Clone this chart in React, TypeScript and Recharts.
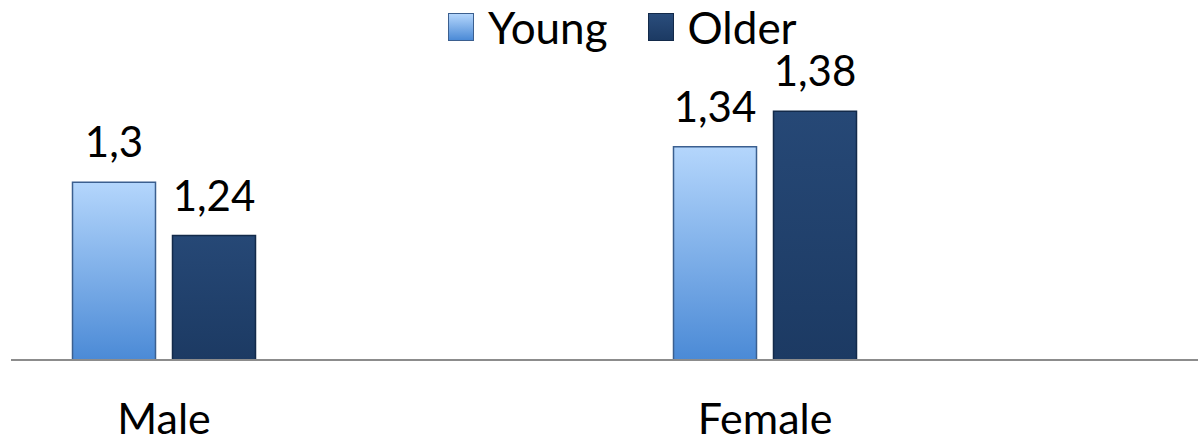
import React from 'react';
import { BarChart, Bar, XAxis, YAxis, LabelList, Legend } from 'recharts';

const groups = ['Male', 'Female'];
const seriesNames = ['Young', 'Older'];
const young = [1.3, 1.34];
const older = [1.24, 1.38];

const data = groups.map((g, i) => ({ group: g, Young: young[i], Older: older[i] }));

const FONT = 'Lato, "Open Sans", sans-serif';

const fmt = (v: any) => String(v).replace('.', ',');

function GroupTick({ x, y, payload }: any) {
  return (
    <text x={x} y={y + 66} textAnchor="middle" fontFamily={FONT} fontSize={43} fill="#000">
      {payload.value}
    </text>
  );
}

function LegendBox({ payload }: any) {
  const items = [...(payload || [])].sort(
    (a: any, b: any) => seriesNames.indexOf(a.value) - seriesNames.indexOf(b.value)
  );
  return (
    <div style={{ height: 0, overflow: 'visible', position: 'relative' }}>
      <div style={{ position: 'absolute', left: 448, top: 1, display: 'flex', alignItems: 'center', fontFamily: FONT, fontSize: 44, color: '#000', whiteSpace: 'nowrap' }}>
        {items.map((p: any) => (
          <div key={p.value} style={{ display: 'flex', alignItems: 'center', marginRight: 40 }}>
            <span
              style={{
                display: 'inline-block',
                width: 26,
                height: 28,
                marginRight: 14,
                boxSizing: 'border-box',
                border: p.value === 'Young' ? '1px solid #3b5f8f' : '1px solid #132a4a',
                background: p.value === 'Young' ? 'linear-gradient(#b4d6fc, #4b8ad6)' : 'linear-gradient(#2a4d7c, #1c3a63)',
              }}
            />
            <span>{p.value}</span>
          </div>
        ))}
      </div>
    </div>
  );
}

export default function App() {
  return (
    <div style={{ position: 'absolute', left: 0, top: 0, width: 1198, height: 442, overflow: 'hidden', background: '#fff' }}>
      <BarChart
        width={1198}
        height={442}
        data={data}
        margin={{ top: 49, right: 0, left: 11, bottom: 52 }}
        barSize={83}
        barGap={17}
      >
        <defs>
          <linearGradient id="gYoung" x1="0" y1="0" x2="0" y2="1">
            <stop offset="0%" stopColor="#b4d6fc" />
            <stop offset="100%" stopColor="#4b8ad6" />
          </linearGradient>
          <linearGradient id="gOlder" x1="0" y1="0" x2="0" y2="1">
            <stop offset="0%" stopColor="#264876" />
            <stop offset="100%" stopColor="#1c3a63" />
          </linearGradient>
        </defs>
        <XAxis
          dataKey="group"
          padding={{ left: -147.5, right: 132.5 }}
          axisLine={{ stroke: '#8c8c8c', strokeWidth: 2 }}
          tickLine={false}
          tick={<GroupTick />}
          interval={0}
        />
        <YAxis hide domain={[1.1, 1.45]} allowDataOverflow />
        <Legend verticalAlign="top" wrapperStyle={{ top: 0, left: 0, width: 1198 }} content={<LegendBox />} />
        <Bar dataKey="Young" fill="url(#gYoung)" stroke="#3b5f8f" strokeWidth={1.5} isAnimationActive={false}>
          <LabelList dataKey="Young" position="top" offset={25} formatter={fmt} fontFamily={FONT} fontSize={42} fill="#000" />
        </Bar>
        <Bar dataKey="Older" fill="url(#gOlder)" stroke="#132a4a" strokeWidth={1.5} isAnimationActive={false}>
          <LabelList dataKey="Older" position="top" offset={25} formatter={fmt} fontFamily={FONT} fontSize={42} fill="#000" />
        </Bar>
      </BarChart>
    </div>
  );
}
